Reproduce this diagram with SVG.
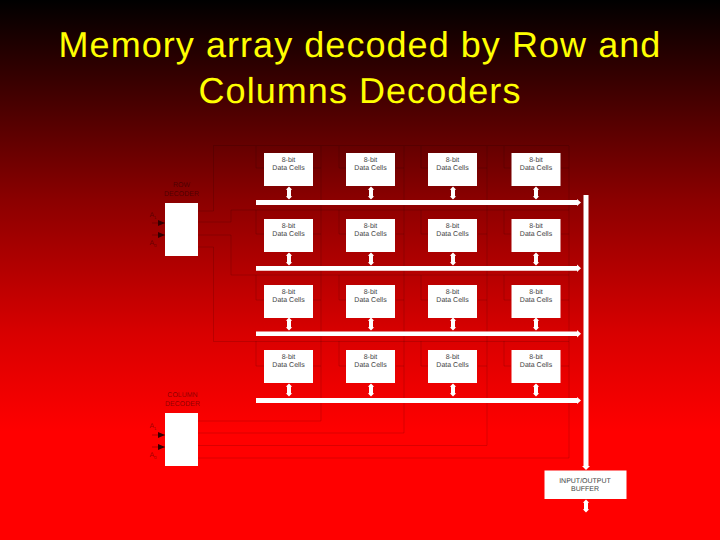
<svg xmlns="http://www.w3.org/2000/svg" width="720" height="540" viewBox="0 0 720 540">
<defs>
<linearGradient id="bg" gradientUnits="userSpaceOnUse" x1="0" y1="0" x2="0" y2="540"><stop offset="0" stop-color="#000"/><stop offset="0.37" stop-color="#8b0000"/><stop offset="0.617" stop-color="#d80000"/><stop offset="0.8" stop-color="#f00"/><stop offset="1" stop-color="#f00"/></linearGradient>
<g id="dbl"><path d="M0 -6.500L3.200 -3.300H2V3.300H3.200L0 6.500L-3.200 3.300H-2V-3.300H-3.200Z" fill="#fff"/></g>
<g id="cell"><rect width="49" height="33" fill="#fff"/><text x="24.500" y="8.500" class="c">8-bit</text><text x="24.500" y="16.500" class="c">Data Cells</text></g>
</defs>
<style>
text{text-rendering:geometricPrecision}
.c{font:7px "Liberation Sans",Arial,sans-serif;fill:#444;text-anchor:middle}
.d{font:7px "Liberation Sans",Arial,sans-serif;fill:#000;fill-opacity:.45;text-anchor:middle}
.s{font-size:4.500px}
.w{fill:none;stroke:#000;stroke-opacity:.14;stroke-width:1}
text.t{font:36px "Liberation Sans",Arial,sans-serif;fill:#ff0;text-anchor:middle;letter-spacing:1.05px}
</style>
<rect width="720" height="540" fill="url(#bg)"/>
<text class="t" x="360" y="57">Memory array decoded by Row and</text>
<text class="t" x="360" y="103">Columns Decoders</text>
<g id="connectors">
<path class="w" d="M198 211H213.500V145.500H569M198 222H231V210H569M198 235H231V275H569M198 247H213.500V341.500H569"/>
<path class="w" d="M198 421H321V146M198 433H404V146M198 445.500H487V146M198 458H569V146"/>
<path class="w" d="M256 146V168H264M339 146V168H346M421 146V168H428M504 146V168H511M256 210V234H264M339 210V234H346M421 210V234H428M504 210V234H511M256 275V300H264M339 275V300H346M421 275V300H428M504 275V300H511M256 341V366H264M339 341V366H346M421 341V366H428M504 341V366H511"/>
<path class="w" d="M313 168H321M396 168H404M478 168H487M561 168H569M313 234H321M396 234H404M478 234H487M561 234H569M313 300H321M396 300H404M478 300H487M561 300H569M313 366H321M396 366H404M478 366H487M561 366H569"/>
<g fill="#fff">
<path d="M256 200H577V199L581 202.500L577 206V205H256Z"/>
<path d="M256 266H577V264.500L581 268.300L577 272V270.700H256Z"/>
<path d="M256 331.500H577V330L581 333.800L577 337.500V336H256Z"/>
<path d="M256 398H577V397L581 400.500L577 404V403H256Z"/>
<path d="M583.500 195H588.500V466L590 466L586 470L582 466L583.500 466Z"/>
</g>
<g>
<use href="#dbl" x="289" y="193"/><use href="#dbl" x="371" y="193"/><use href="#dbl" x="453" y="193"/><use href="#dbl" x="536" y="193"/>
<use href="#dbl" x="289" y="259"/><use href="#dbl" x="371" y="259"/><use href="#dbl" x="453" y="259"/><use href="#dbl" x="536" y="259"/>
<use href="#dbl" x="289" y="324"/><use href="#dbl" x="371" y="324"/><use href="#dbl" x="453" y="324"/><use href="#dbl" x="536" y="324"/>
<use href="#dbl" x="289" y="390"/><use href="#dbl" x="371" y="390"/><use href="#dbl" x="453" y="390"/><use href="#dbl" x="536" y="390"/>
<use href="#dbl" x="586" y="506"/>
</g>
<path d="M152 223H165M152 235H165M152 435H165M152 447H165" stroke="#300" stroke-opacity=".6" stroke-width=".6" fill="none"/>
<path d="M158 220L165 223L158 226ZM158 232L165 235L158 238ZM158 432L165 435L158 438ZM158 444L165 447L158 450Z" fill="#300"/>
</g>
<g id="row-decoder"><rect x="165" y="203" width="33" height="53" fill="#fff"/><text class="d" x="181.500" y="187">ROW</text><text class="d" x="181.500" y="195.500">DECODER</text><text class="d" x="153" y="217">A<tspan class="s" dy="1.500">1</tspan></text><text class="d" x="153" y="245">A<tspan class="s" dy="1.500">0</tspan></text></g>
<g id="column-decoder"><rect x="165" y="413" width="33" height="53" fill="#fff"/><text class="d" x="182.500" y="397">COLUMN</text><text class="d" x="182.500" y="405.500">DECODER</text><text class="d" x="153" y="428">A<tspan class="s" dy="1.500">1</tspan></text><text class="d" x="153" y="457">A<tspan class="s" dy="1.500">0</tspan></text></g>
<g id="cells">
<use href="#cell" x="264" y="153"/><use href="#cell" x="346" y="153"/><use href="#cell" x="428" y="153"/><use href="#cell" x="511.500" y="153"/>
<use href="#cell" x="264" y="219"/><use href="#cell" x="346" y="219"/><use href="#cell" x="428" y="219"/><use href="#cell" x="511.500" y="219"/>
<use href="#cell" x="264" y="285"/><use href="#cell" x="346" y="285"/><use href="#cell" x="428" y="285"/><use href="#cell" x="511.500" y="285"/>
<use href="#cell" x="264" y="350"/><use href="#cell" x="346" y="350"/><use href="#cell" x="428" y="350"/><use href="#cell" x="511.500" y="350"/>
</g>
<g id="io-buffer"><rect x="544.500" y="470.500" width="82" height="28.500" fill="#fff"/><text class="c" x="585" y="482.500">INPUT/OUTPUT</text><text class="c" x="585" y="490.500">BUFFER</text></g>
</svg>
